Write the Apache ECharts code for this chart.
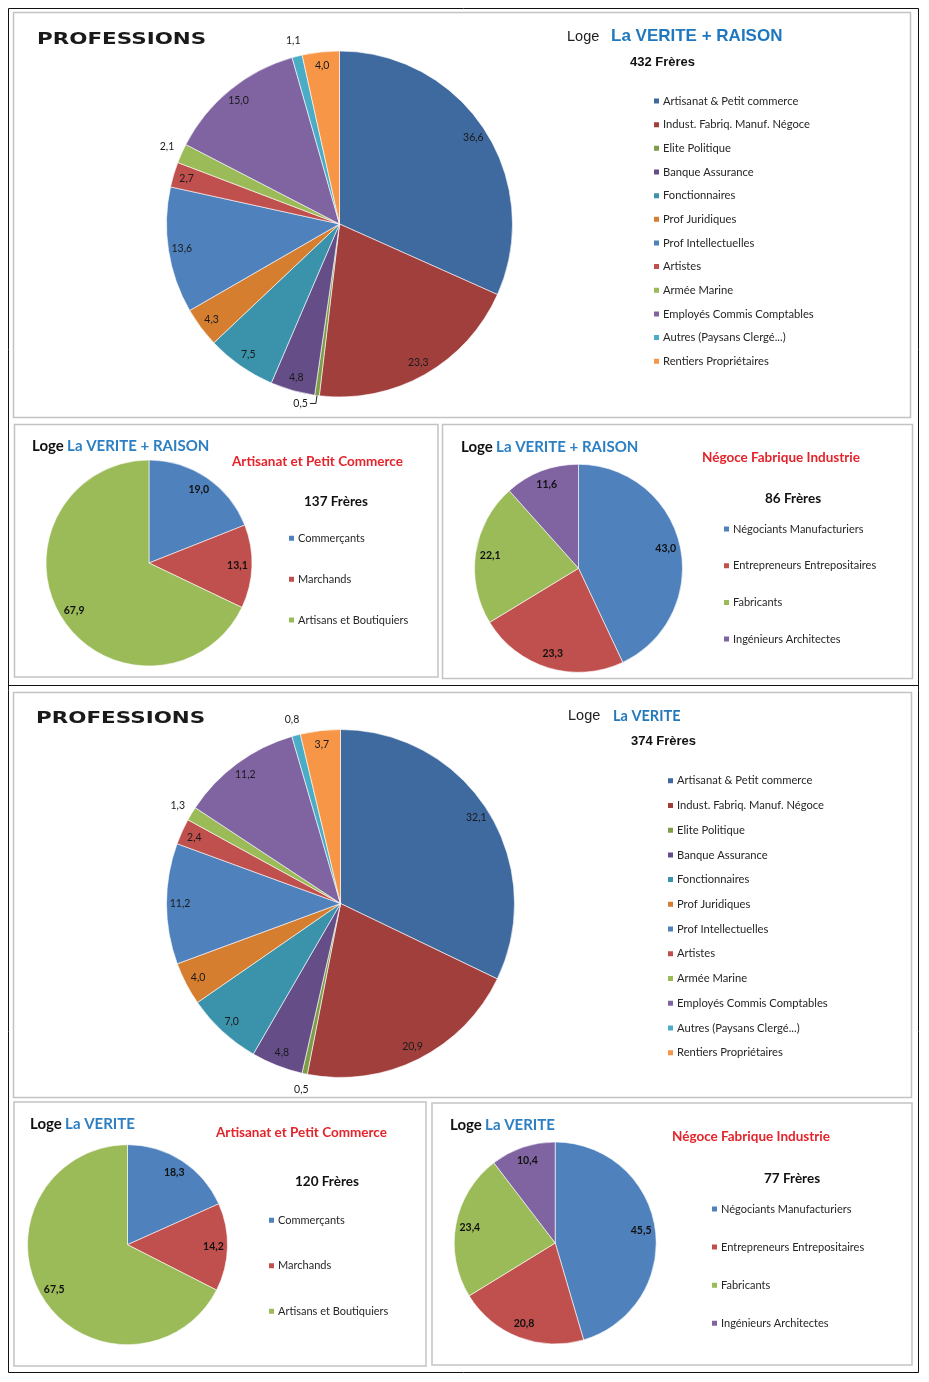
<!DOCTYPE html>
<html><head><meta charset="utf-8">
<script src="https://cdn.jsdelivr.net/npm/echarts@6/dist/echarts.min.js"></script>
<style>html,body{margin:0;padding:0;background:#fff}#c{width:929px;height:1382px}</style>
</head><body><div id="c"></div>
<script>
// ---------- DATA ----------
const professionCategories = ['Artisanat & Petit commerce', 'Indust. Fabriq. Manuf. Négoce', 'Elite Politique', 'Banque Assurance', 'Fonctionnaires', 'Prof Juridiques', 'Prof Intellectuelles', 'Artistes', 'Armée Marine', 'Employés Commis Comptables', 'Autres (Paysans Clergé...)', 'Rentiers Propriétaires'];
const raisonProfessions = [36.6, 23.3, 0.5, 4.8, 7.5, 4.3, 13.6, 2.7, 2.1, 15.0, 1.1, 4.0];
const veriteProfessions = [32.1, 20.9, 0.5, 4.8, 7.0, 4.0, 11.2, 2.4, 1.3, 11.2, 0.8, 3.7];

const artisanatCategories = ['Commerçants', 'Marchands', 'Artisans et Boutiquiers'];
const raisonArtisanat = [19.0, 13.1, 67.9];
const veriteArtisanat = [18.3, 14.2, 67.5];

const negoceCategories = ['Négociants Manufacturiers', 'Entrepreneurs Entrepositaires', 'Fabricants', 'Ingénieurs Architectes'];
const raisonNegoce = [43.0, 23.3, 22.1, 11.6];
const veriteNegoce = [45.5, 20.8, 23.4, 10.4];

// ---------- STYLE ----------
const professionColors = ['#3F6AA0', '#A13F3D', '#7F9C46', '#654D88', '#3A93AA', '#D67E30', '#4F81BD', '#C0504D', '#9BBB59', '#8064A2', '#4BACC6', '#F79646'];
const subColors = ['#4F81BD', '#C0504D', '#9BBB59', '#8064A2'];
const FONT = 'Lato';
const fmt = v => v.toFixed(1).replace('.', ',');

const chart = echarts.init(document.getElementById('c'), null, { renderer: 'canvas', width: 929, height: 1382 });

function pieSeries(values, names, colors, center, r, o) {
  const modes = o.modes || {};
  const base = { type: 'pie', center: center, silent: true, startAngle: 90, clockwise: true,
    avoidLabelOverlap: false, emphasis: { disabled: true }, animation: false };
  const lbl = { fontFamily: FONT, fontSize: o.size, fontWeight: o.weight, color: o.color,
    formatter: p => fmt(p.value) };
  const out = [];
  out.push(Object.assign({}, base, {
    radius: [0, r], label: { show: false }, labelLine: { show: false },
    itemStyle: { borderColor: '#ffffff', borderWidth: 0.6 },
    data: values.map((v, i) => ({ name: names[i], value: v, itemStyle: { color: colors[i] } }))
  }));
  out.push(Object.assign({}, base, {
    radius: [r * o.inner, r], z: 3,
    label: Object.assign({ show: true, position: 'inside', distanceToLabelLine: 2 }, lbl),
    labelLine: { show: false },
    itemStyle: { color: 'rgba(0,0,0,0)', borderWidth: 0 },
    data: values.map((v, i) => {
      const m = modes[i] || 'in';
      const d = { name: names[i], value: v };
      if (m === 'line') {
        d.label = { show: true, position: 'outside' };
        d.labelLine = { show: true, length: o.lineLen[0], length2: o.lineLen[1], smooth: false,
          lineStyle: { color: '#222', width: 1 } };
      } else if (m !== 'in') {
        d.label = { show: false };
      }
      return d;
    })
  }));
  if (Object.values(modes).includes('out')) {
    out.push(Object.assign({}, base, {
      radius: [r, r + 26], z: 3,
      label: Object.assign({ show: true, position: 'inside' }, lbl),
      labelLine: { show: false },
      itemStyle: { color: 'rgba(0,0,0,0)', borderWidth: 0 },
      data: values.map((v, i) => ({ name: names[i], value: v,
        label: { show: modes[i] === 'out' } }))
    }));
  }
  return out;
}

function legend(names, left, top, gap, size) {
  return { data: names, orient: 'vertical', left: left, top: top, itemGap: gap,
    itemWidth: 7, itemHeight: 7, icon: 'rect', padding: 0, selectedMode: false,
    textStyle: { fontFamily: FONT, fontSize: size, color: '#262626', lineHeight: 12, padding: [0, 0, 0, -2] } };
}

const mainLbl = { size: 10.5, weight: 'normal', color: '#1a1a1a', inner: 0.81, lineLen: [8, 6] };
const subLbl = { size: 10.5, weight: 'bold', color: '#111', inner: 0.66 };

const series = [].concat(
  pieSeries(raisonProfessions, professionCategories, professionColors, [339.5, 224], 173,
    Object.assign({}, mainLbl, { modes: { 2: 'line', 8: 'out', 10: 'out' } })),
  pieSeries(veriteProfessions, professionCategories, professionColors, [340.5, 903.5], 174,
    Object.assign({}, mainLbl, { modes: { 2: 'out', 8: 'out', 10: 'out' } })),
  pieSeries(raisonArtisanat, artisanatCategories, subColors, [149, 563], 103, subLbl),
  pieSeries(raisonNegoce, negoceCategories, subColors, [578.5, 568.3], 104, subLbl),
  pieSeries(veriteArtisanat, artisanatCategories, subColors, [127.5, 1244.7], 100, subLbl),
  pieSeries(veriteNegoce, negoceCategories, subColors, [555.2, 1243], 101, subLbl)
);

const legends = [
  legend(professionCategories, 652, 95, 11.66, 11.2),
  legend(professionCategories, 666, 774.7, 12.73, 11.2),
  legend(artisanatCategories, 287, 532.3, 28.85, 11),
  legend(negoceCategories, 722, 523, 24.7, 11),
  legend(artisanatCategories, 267, 1214.3, 33.5, 11),
  legend(negoceCategories, 710, 1203, 26.1, 11)
];

function txt(text, x, y, font, fill, extra) {
  return Object.assign({ type: 'text', x: x, y: y, silent: true, z: 10,
    style: { text: text, font: font, fill: fill, align: 'left', verticalAlign: 'middle' } }, extra || {});
}
function rich(loge, name, x, y, size) {
  return { type: 'text', x: x, y: y, silent: true, z: 10,
    style: { text: '{a|' + loge + '} {b|' + name + '}', align: 'left', verticalAlign: 'middle',
      rich: { a: { fontFamily: FONT, fontWeight: 'bold', fontSize: size, fill: '#111', color: '#111' },
              b: { fontFamily: FONT, fontWeight: 'bold', fontSize: size, fill: '#2B7FC2', color: '#2B7FC2' } } } };
}
function rect(x, y, w, h, stroke, lw) {
  return { type: 'rect', silent: true, z: 1, shape: { x: x, y: y, width: w, height: h },
    style: { fill: 'none', stroke: stroke, lineWidth: lw } };
}

const PANEL = '#C3C3C3';
const graphic = [
  rect(8.5, 8.5, 910, 1364, '#111', 1),
  { type: 'line', silent: true, shape: { x1: 8, y1: 685.5, x2: 919, y2: 685.5 }, style: { stroke: '#111', lineWidth: 1.2 } },
  rect(13.5, 12.5, 897, 405, PANEL, 1.5),
  rect(14.5, 424.5, 423.5, 252.5, PANEL, 1.5),
  rect(442.5, 424.5, 470, 254, PANEL, 1.5),
  rect(13.5, 692.5, 898, 405, PANEL, 1.5),
  rect(14, 1102, 412, 264, PANEL, 1.5),
  rect(432, 1103, 480, 262, PANEL, 1.5),

  txt('PROFESSIONS', 37, 39.5, 'bold 16px "DejaVu Sans"', '#1a1a1a', { scaleX: 1.34 }),
  txt('Loge', 567, 37, '14.5px "Liberation Sans"', '#222'),
  txt('La VERITE + RAISON', 611, 36.5, 'bold 17px "Liberation Sans"', '#1F78BF'),
  txt('432 Frères', 630, 62, 'bold 13px "Liberation Sans"', '#111'),

  txt('PROFESSIONS', 36, 719, 'bold 16px "DejaVu Sans"', '#1a1a1a', { scaleX: 1.34 }),
  txt('Loge', 568, 716, '14.5px "Liberation Sans"', '#222'),
  txt('La VERITE', 613, 716, 'bold 14.5px Lato', '#2479BD'),
  txt('374 Frères', 631, 741, 'bold 13px "Liberation Sans"', '#111'),

  rich('Loge', 'La VERITE + RAISON', 32, 446.5, 15),
  txt('Artisanat et Petit Commerce', 232, 462, 'bold 13.5px Lato', '#E4232B'),
  txt('137 Frères', 304, 502, 'bold 13.5px Lato', '#111'),

  rich('Loge', 'La VERITE + RAISON', 461, 447, 15),
  txt('Négoce Fabrique Industrie', 702, 458, 'bold 13.5px Lato', '#E4232B'),
  txt('86 Frères', 765, 499, 'bold 13.5px Lato', '#111'),

  rich('Loge', 'La VERITE', 30, 1124, 15),
  txt('Artisanat et Petit Commerce', 216, 1133, 'bold 13.5px Lato', '#E4232B'),
  txt('120 Frères', 295, 1181.5, 'bold 13.5px Lato', '#111'),

  rich('Loge', 'La VERITE', 450, 1125, 15),
  txt('Négoce Fabrique Industrie', 672, 1136.5, 'bold 13.5px Lato', '#E4232B'),
  txt('77 Frères', 764, 1179, 'bold 13.5px Lato', '#111')
];

chart.setOption({
  backgroundColor: '#ffffff',
  animation: false,
  legend: legends,
  series: series,
  graphic: { elements: graphic }
});
</script>
</body></html>
